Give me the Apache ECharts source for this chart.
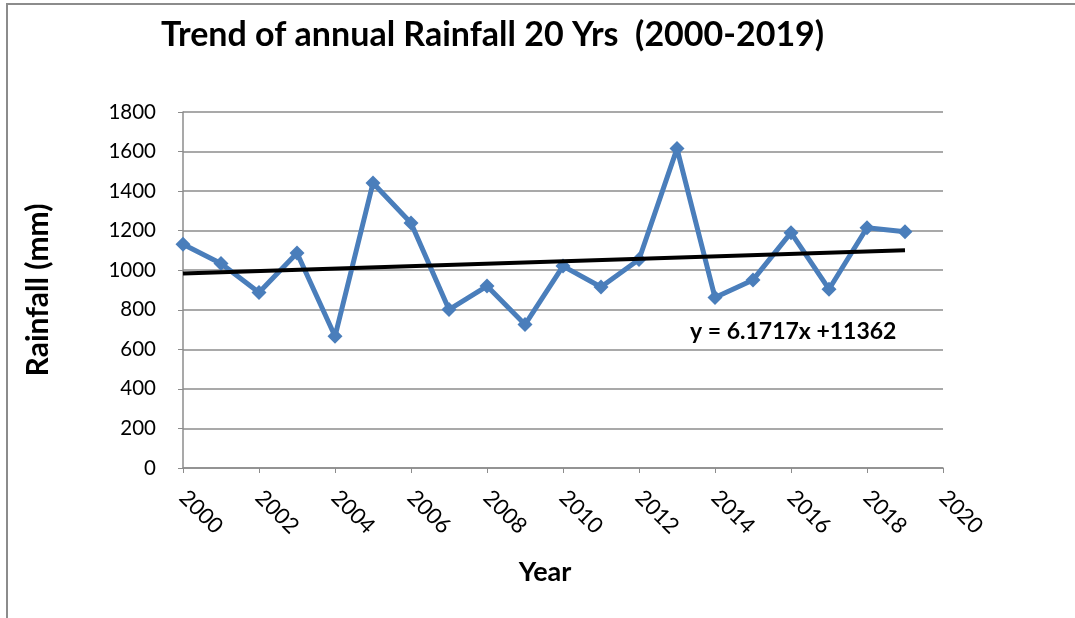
<!DOCTYPE html>
<html>
<head>
<meta charset="utf-8">
<style>
  html, body { margin: 0; padding: 0; background: #fff; }
  #chart { width: 1075px; height: 618px; }
</style>
<script src="https://cdn.jsdelivr.net/npm/echarts@6/dist/echarts.min.js"></script>
</head>
<body>
<div id="chart"></div>
<script>
// Annual rainfall (mm), 2000-2019
const years = [2000, 2001, 2002, 2003, 2004, 2005, 2006, 2007, 2008, 2009,
               2010, 2011, 2012, 2013, 2014, 2015, 2016, 2017, 2018, 2019];
const rainfall = [1131, 1034, 887, 1087, 666, 1441, 1239, 801, 920, 725,
                  1021, 915, 1054, 1615, 862, 951, 1190, 904, 1215, 1195];

// Linear trend line endpoints (first and last year)
const trendYears = [2000, 2019];
const trendValues = [984, 1101];
const trendLabel = 'y = 6.1717x +11362';

const chartTitle = 'Trend of annual Rainfall 20 Yrs  (2000-2019)';
const xTitle = 'Year';
const yTitle = 'Rainfall (mm)';

const FONT = 'Lato, "Open Sans", sans-serif';
const GRID_GRAY = '#8c8c8c';

const chart = echarts.init(document.getElementById('chart'), null, { renderer: 'canvas' });

chart.setOption({
  backgroundColor: '#ffffff',
  animation: false,
  title: {
    text: chartTitle,
    left: 156,
    top: 13,
    textStyle: { fontFamily: FONT, fontWeight: 'bold', fontSize: 34, color: '#000' }
  },
  grid: { left: 183, right: 132, top: 112, bottom: 150, containLabel: false },
  xAxis: {
    type: 'value',
    min: 2000,
    max: 2020,
    interval: 2,
    name: xTitle,
    nameLocation: 'middle',
    nameGap: 91,
    nameTextStyle: { fontFamily: FONT, fontWeight: 'bold', fontSize: 27, color: '#000', padding: [0, 36, 0, 0] },
    axisLine: { show: true, lineStyle: { color: GRID_GRAY, width: 1.5 } },
    axisTick: { show: true, length: 5, lineStyle: { color: GRID_GRAY } },
    splitLine: { show: false },
    axisLabel: {
      rotate: -45,
      margin: 26,
      fontFamily: FONT,
      fontSize: 22,
      color: '#000',
      formatter: v => String(v)
    }
  },
  yAxis: {
    type: 'value',
    min: 0,
    max: 1800,
    interval: 200,
    name: yTitle,
    nameLocation: 'middle',
    nameGap: 130,
    nameRotate: 90,
    nameTextStyle: { fontFamily: FONT, fontWeight: 'bold', fontSize: 30, color: '#000' },
    axisLine: { show: true, lineStyle: { color: GRID_GRAY, width: 1.5 } },
    axisTick: { show: true, length: 5, lineStyle: { color: GRID_GRAY } },
    splitLine: { show: true, lineStyle: { color: GRID_GRAY, width: 1.5 } },
    axisLabel: { margin: 27, fontFamily: FONT, fontSize: 20.5, color: '#000', formatter: v => String(v) }
  },
  series: [
    {
      name: 'Rainfall',
      type: 'line',
      data: years.map((y, i) => [y, rainfall[i]]),
      symbol: 'diamond',
      symbolSize: 15,
      lineStyle: { color: '#4a7ebb', width: 5 },
      itemStyle: { color: '#4a7ebb' },
      z: 3
    },
    {
      name: 'Trend',
      type: 'line',
      data: trendYears.map((y, i) => [y, trendValues[i]]),
      symbol: 'none',
      lineStyle: { color: '#000000', width: 4 },
      z: 4
    }
  ],
  graphic: [
    {
      type: 'text',
      left: 690,
      top: 320,
      style: { text: trendLabel, fontFamily: FONT, fontWeight: 'bold', fontSize: 23, fill: '#000' }
    },
    // outer chart frame (top and left edges)
    {
      type: 'polyline',
      shape: { points: [[7, 618], [7, 4], [1075, 4]] },
      style: { stroke: '#8c8c8c', lineWidth: 2, fill: null }
    }
  ]
});
</script>
</body>
</html>
